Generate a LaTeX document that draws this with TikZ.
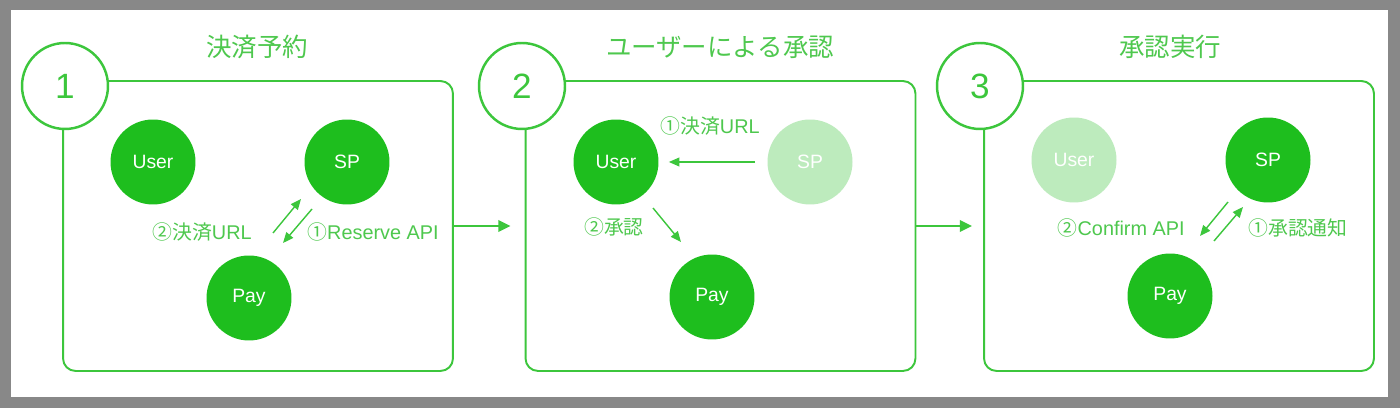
\documentclass[tikz,border=0pt]{standalone}
\usepackage{fontspec}
\setmainfont{Liberation Sans}
\newfontfamily\cjk{Noto Sans CJK JP}
\usetikzlibrary{arrows.meta,calc}
\definecolor{gbg}{HTML}{888888}
\definecolor{gfill}{HTML}{1EBE1E}
\definecolor{glight}{HTML}{BDEBBD}
\definecolor{gline}{HTML}{3CC63C}
\definecolor{gtext}{HTML}{4EC84E}
\tikzset{
  actor/.style={circle,fill=gfill,minimum size=1.7cm,inner sep=0pt,text=white,font=\fontsize{11}{13}\selectfont},
  ghost/.style={actor,fill=glight},
  panel/.style={draw=gline,line width=1.1pt,rounded corners=0.25cm,minimum width=7.8cm,minimum height=5.8cm,inner sep=0pt},
  numc/.style={circle,draw=gline,line width=1.4pt,fill=white,minimum size=1.72cm,inner sep=0pt,text=gline,font=\fontsize{20}{24}\selectfont},
  ttl/.style={text=gtext,font=\cjk\fontsize{14.5}{17}\selectfont},
  lbl/.style={text=gtext,font=\fontsize{11.3}{13}\selectfont,inner sep=0pt},
  arr/.style={draw=gline,line width=0.8pt,-{Triangle[length=6pt,width=5pt]}},
  flow/.style={draw=gline,line width=1.4pt,-{Triangle[length=7pt,width=6.5pt]}},
}
\begin{document}
\begin{tikzpicture}[x=0.02cm,y=-0.02cm]
\fill[gbg] (0,0) rectangle (1400,408);
\fill[white] (11,10) rectangle (1388,397);
\useasboundingbox (0,0) rectangle (1400,408);
% panels
\node[panel] (box1) at (258,226) {};
\node[panel] (box2) at (720.5,226) {};
\node[panel] (box3) at (1179,226) {};
\node[numc] (n1) at (65,86) {1};
\node[numc] (n2) at (522,86) {2};
\node[numc] (n3) at (980,86) {3};
\node[ttl] (t1) at (257,47) {決済予約};
\node[ttl] (t2) at (720,47) {ユーザーによる承認};
\node[ttl] (t3) at (1170,47) {承認実行};
% flow arrows
\draw[flow,shorten >=14*0.02cm] (box1.east) -- (box2.west);
\draw[flow,shorten >=11*0.02cm] (box2.east) -- (box3.west);
% panel 1
\node[actor] (user1) at (153,162) {User};
\node[actor] (sp1) at (347,162) {SP};
\node[actor] (pay1) at (249,298) {Pay};
\draw[arr] ($(pay1)+(24,-65)$) -- ($(pay1)+(52,-99)$);
\draw[arr] ($(sp1)+(-35,47)$) -- ($(sp1)+(-64,81)$);
\node[lbl,anchor=east] (l1a) at (252,232) {{\cjk ②決済}URL};
\node[lbl,anchor=west] (l1b) at (307,232) {{\cjk ①}Reserve API};
% panel 2
\node[actor] (user2) at (616,162) {User};
\node[ghost] (sp2) at (810,162) {SP};
\node[actor] (pay2) at (712,297) {Pay};
\draw[arr,shorten <=12*0.02cm,shorten >=10*0.02cm] (sp2.west) -- (user2.east);
\draw[arr] ($(user2)+(37,46)$) -- ($(user2)+(65,80)$);
\node[lbl] (l2a) at (710,126) {{\cjk ①決済}URL};
\node[lbl] (l2b) at (614,227) {\cjk ②承認};
% panel 3
\node[ghost] (user3) at (1074,160) {User};
\node[actor] (sp3) at (1268,160) {SP};
\node[actor] (pay3) at (1170,296) {Pay};
\draw[arr] ($(sp3)+(-40,42)$) -- ($(sp3)+(-68,76)$);
\draw[arr] ($(pay3)+(44,-55)$) -- ($(pay3)+(73,-89)$);
\node[lbl,anchor=east] (l3a) at (1185,228) {{\cjk ②}Confirm API};
\node[lbl,anchor=west] (l3b) at (1248,228) {\cjk ①承認通知};
\end{tikzpicture}
\end{document}
